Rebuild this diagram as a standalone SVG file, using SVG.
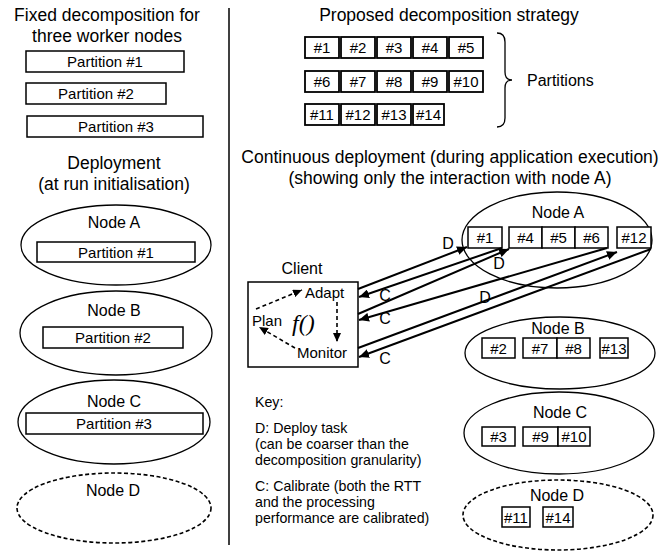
<svg xmlns="http://www.w3.org/2000/svg" width="662" height="554" viewBox="0 0 662 554">
<defs>
<style>
text{font-family:"Liberation Sans",Arial,sans-serif;fill:#000}
.t16{font-size:17.5px}
.t15{font-size:16px}
.t14{font-size:15px}
.key{font-size:14.2px}
.c{text-anchor:middle}
.box{fill:#fff;stroke:#000;stroke-width:1.5}
.cell{fill:#fff;stroke:#000;stroke-width:1.8}
.ell{fill:none;stroke:#000;stroke-width:1.3}
.dash{fill:none;stroke:#000;stroke-width:1.6;stroke-dasharray:4 2.5}
.conn{fill:none;stroke:#000;stroke-width:2}
.dconn{fill:none;stroke:#000;stroke-width:1.6;stroke-dasharray:4 3}
</style>
<marker id="ah" markerUnits="userSpaceOnUse" markerWidth="11" markerHeight="9" refX="10" refY="4.5" orient="auto" viewBox="0 0 11 9">
<path d="M0,0 L10,4.5 L0,9 z" fill="#000"/>
</marker>
<marker id="ahs" markerUnits="userSpaceOnUse" markerWidth="10" markerHeight="8" refX="9" refY="4" orient="auto" viewBox="0 0 10 8">
<path d="M0,0 L9,4 L0,8 z" fill="#000"/>
</marker>
</defs>
<rect width="662" height="554" fill="#fff"/>

<!-- divider -->
<line x1="229" y1="8" x2="229" y2="545" stroke="#000" stroke-width="1.5"/>

<!-- left panel -->
<g id="left-title">
<text class="t16 c" x="107" y="21">Fixed decomposition for</text>
<text class="t16 c" x="107" y="42">three worker nodes</text>
</g>
<g id="fixed-p1"><rect class="box" x="26" y="51" width="158" height="21"/><text class="t14 c" x="105" y="67">Partition #1</text></g>
<g id="fixed-p2"><rect class="box" x="26" y="83" width="140" height="21"/><text class="t14 c" x="96" y="99">Partition #2</text></g>
<g id="fixed-p3"><rect class="box" x="27" y="116" width="176" height="21"/><text class="t14 c" x="116" y="132">Partition #3</text></g>

<g id="deploy-title">
<text class="t16 c" x="114" y="169">Deployment</text>
<text class="t16 c" x="114" y="190">(at run initialisation)</text>
</g>
<g id="left-nodeA">
<ellipse class="ell" cx="116" cy="245" rx="95" ry="40"/>
<text class="t15 c" x="114" y="228">Node A</text>
<rect class="box" x="37" y="242" width="158" height="20"/>
<text class="t14 c" x="116" y="257.5">Partition #1</text>
</g>
<g id="left-nodeB">
<ellipse class="ell" cx="116" cy="333" rx="96" ry="42"/>
<text class="t15 c" x="114" y="316">Node B</text>
<rect class="box" x="43" y="327" width="140" height="21"/>
<text class="t14 c" x="113" y="343">Partition #2</text>
</g>
<g id="left-nodeC">
<ellipse class="ell" cx="114" cy="422" rx="96" ry="42"/>
<text class="t15 c" x="114" y="407">Node C</text>
<rect class="box" x="26" y="413" width="177" height="21"/>
<text class="t14 c" x="114" y="429">Partition #3</text>
</g>
<g id="left-nodeD">
<ellipse class="dash" cx="114" cy="508" rx="97" ry="35"/>
<text class="t15 c" x="113" y="496">Node D</text>
</g>

<!-- right panel -->
<g id="proposed">
<text class="t16 c" x="449" y="21">Proposed decomposition strategy</text>
<rect class="cell" x="305" y="37" width="34" height="21"/><text class="t14 c" x="322" y="53">#1</text>
<rect class="cell" x="341" y="37" width="34" height="21"/><text class="t14 c" x="358" y="53">#2</text>
<rect class="cell" x="377" y="37" width="34" height="21"/><text class="t14 c" x="394" y="53">#3</text>
<rect class="cell" x="413" y="37" width="34" height="21"/><text class="t14 c" x="430" y="53">#4</text>
<rect class="cell" x="449" y="37" width="34" height="21"/><text class="t14 c" x="466" y="53">#5</text>
<rect class="cell" x="305" y="71" width="34" height="21"/><text class="t14 c" x="322" y="87">#6</text>
<rect class="cell" x="341" y="71" width="34" height="21"/><text class="t14 c" x="358" y="87">#7</text>
<rect class="cell" x="377" y="71" width="34" height="21"/><text class="t14 c" x="394" y="87">#8</text>
<rect class="cell" x="413" y="71" width="34" height="21"/><text class="t14 c" x="430" y="87">#9</text>
<rect class="cell" x="449" y="71" width="34" height="21"/><text class="t14 c" x="466" y="87">#10</text>
<rect class="cell" x="305" y="104" width="34" height="21"/><text class="t14 c" x="322" y="120">#11</text>
<rect class="cell" x="341" y="104" width="34" height="21"/><text class="t14 c" x="358" y="120">#12</text>
<rect class="cell" x="377" y="104" width="34" height="21"/><text class="t14 c" x="394" y="120">#13</text>
<rect class="cell" x="413" y="104" width="31" height="21"/><text class="t14 c" x="428.5" y="120">#14</text>
<path d="M497,33 Q505,33 505,42 L505,72 Q505,80 512,80 Q505,80 505,88 L505,118 Q505,127 497,127" fill="none" stroke="#000" stroke-width="1.3"/>
<text class="t15" x="527" y="86">Partitions</text>
</g>

<g id="cont-title">
<text class="t16 c" x="450" y="163">Continuous deployment (during application execution)</text>
<text class="t16 c" x="450" y="184">(showing only the interaction with node A)</text>
</g>

<g id="client">
<text class="t15 c" x="302" y="274">Client</text>
<rect class="box" x="248" y="282" width="110" height="85"/>
<text class="t14" x="305" y="298">Adapt</text>
<text class="t14" x="252" y="326">Plan</text>
<text x="292" y="331" style="font-family:'Liberation Serif','Times New Roman',serif;font-style:italic;font-size:24px">f()</text>
<text class="t14" x="297" y="358">Monitor</text>
<path class="dconn" d="M256,309 L302,290" marker-end="url(#ahs)"/>
<path class="dconn" d="M337,302 L337,342" marker-end="url(#ahs)"/>
<path class="dconn" d="M295,348 L259,327" marker-end="url(#ahs)"/>
</g>

<g id="nodeA">
<ellipse class="ell" cx="557" cy="240" rx="95" ry="48"/>
<text class="t15 c" x="558" y="218">Node A</text>
<rect class="box" x="468" y="227" width="34" height="21"/><text class="t14 c" x="485" y="243">#1</text>
<rect class="box" x="509" y="227" width="33" height="21"/><text class="t14 c" x="525.5" y="243">#4</text>
<rect class="box" x="542" y="227" width="33" height="21"/><text class="t14 c" x="558.5" y="243">#5</text>
<rect class="box" x="575" y="227" width="33" height="21"/><text class="t14 c" x="591.5" y="243">#6</text>
<rect class="box" x="617" y="227" width="34" height="21"/><text class="t14 c" x="634" y="243">#12</text>
</g>
<g id="nodeB">
<ellipse class="ell" cx="560" cy="353" rx="95" ry="36"/>
<text class="t15 c" x="558" y="334">Node B</text>
<rect class="box" x="482" y="338" width="33" height="20"/><text class="t14 c" x="498.5" y="353.5">#2</text>
<rect class="box" x="523" y="338" width="34" height="20"/><text class="t14 c" x="540" y="353.5">#7</text>
<rect class="box" x="557" y="338" width="33" height="20"/><text class="t14 c" x="573.5" y="353.5">#8</text>
<rect class="box" x="600" y="338" width="28" height="20"/><text class="t14 c" x="614" y="353.5">#13</text>
</g>
<g id="nodeC">
<ellipse class="ell" cx="559" cy="433" rx="95" ry="41"/>
<text class="t15 c" x="560" y="418">Node C</text>
<rect class="box" x="482" y="427" width="33" height="19"/><text class="t14 c" x="498.5" y="442">#3</text>
<rect class="box" x="523" y="427" width="35" height="19"/><text class="t14 c" x="540.5" y="442">#9</text>
<rect class="box" x="558" y="427" width="32" height="19"/><text class="t14 c" x="574" y="442">#10</text>
</g>
<g id="nodeD">
<ellipse class="dash" cx="558" cy="515" rx="95" ry="35"/>
<text class="t15 c" x="557" y="501">Node D</text>
<rect class="box" x="502" y="507" width="28" height="20"/><text class="t14 c" x="516" y="522.5">#11</text>
<rect class="box" x="543" y="507" width="30" height="20"/><text class="t14 c" x="558" y="522.5">#14</text>
</g>

<g id="connectors">
<path class="conn" d="M358,289 L467,247" marker-end="url(#ah)"/>
<path class="conn" d="M502,248 L359,297" marker-end="url(#ah)"/>
<path class="conn" d="M358,314 L509,249" marker-end="url(#ah)"/>
<path class="conn" d="M607,248 L359,320" marker-end="url(#ah)"/>
<path class="conn" d="M358,348 L617,252" marker-end="url(#ah)"/>
<path class="conn" d="M651,249 L359,357" marker-end="url(#ah)"/>
<text class="t15 c" x="448" y="249">D</text>
<text class="t15 c" x="499" y="269">D</text>
<text class="t15 c" x="485" y="303">D</text>
<text class="t15 c" x="385" y="301">C</text>
<text class="t15 c" x="385" y="324">C</text>
<text class="t15 c" x="385" y="364">C</text>
</g>

<g id="key">
<text class="key" x="255" y="407">Key:</text>
<text class="key" x="255" y="433">D: Deploy task</text>
<text class="key" x="255" y="449">(can be coarser than the</text>
<text class="key" x="255" y="465">decomposition granularity)</text>
<text class="key" x="255" y="491">C: Calibrate (both the RTT</text>
<text class="key" x="255" y="507">and the processing</text>
<text class="key" x="255" y="523">performance are calibrated)</text>
</g>
</svg>
